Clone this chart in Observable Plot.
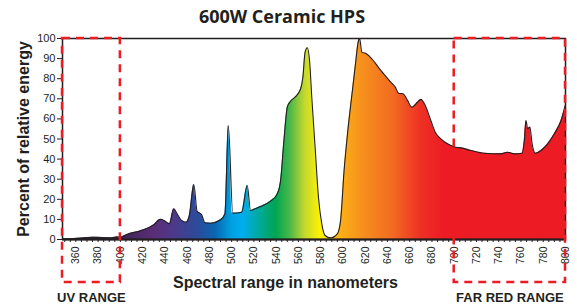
<!DOCTYPE html>
<html><head><meta charset="utf-8">
<script src="https://cdn.jsdelivr.net/npm/d3@7"></script>
<script src="https://cdn.jsdelivr.net/npm/@observablehq/plot@0.6"></script>
<style>
body{margin:0;background:#fff;}
#title{height:30px;box-sizing:border-box;padding:4px 13px 0 0;text-align:center;font:bold 18px "Open Sans",sans-serif;color:#231f20;line-height:24px;}
#chart svg{overflow:visible;}
</style></head><body>
<div id="title">600W Ceramic HPS</div>
<div id="chart"></div>
<script>
const wavelength = [348,356,365,375,384,392,397,400,404,409,416,421,430,436,440,444,448,451,455,459,462,466,469,473,476,481,490,494,497,501,509,514,517,521,526,535,541,544,547,550,553,557,562,564,566,568,570,572,575,578,581,584,589,595,598,601,604,607,608.5,611,614,615,617,621,626,634,643,647,650,654,658,662,667,670,674,679,683,688,694,701,706,715,727,742,748,754,761,763,764.5,766,768,770,773,778,784,790,796,800];
const energy = [0.3,0.4,0.7,1.1,1.0,0.8,1.3,1.0,2.0,3.1,4.0,4.8,7.3,10.1,9.2,7.8,15.3,12.8,9.5,8.6,12,27.4,14,12.4,8.3,8.1,9.8,12.8,56.7,13.1,13.6,26.9,14.4,15.3,16.4,19.1,22.7,29.4,49.3,65.8,68.8,70.8,75,80.7,93.2,95.4,89,70.8,45.9,21,7.8,2,0.8,2.8,10,34,52,67,74,86,99,100,93.2,92.4,89.9,84.1,78.3,75.8,72.8,72.5,69.2,65.8,68.3,69.7,66.7,59.2,53.4,50.1,47.6,45.9,45.6,44.3,42.9,42.6,43.4,42.6,42.9,49.3,59.2,55.1,55.9,47.6,42.9,44.3,47.6,52.6,59.2,67];
const xTicks = [360,380,400,420,440,460,480,500,520,540,560,580,600,620,640,660,680,700,720,740,760,780,800];
const yTicks = [0,10,20,30,40,50,60,70,80,90,100];
const minorTicks = d3.range(350, 801, 5);
const xDomain = [348, 800];
const ranges = [[348, 400], [700, 800]];
const rangeLabels = ["UV RANGE", "FAR RED RANGE"];
const gradWl = [348,400,430,450,470,485,500,510,525,540,553,566,580,595,615,645,670,690,800];
const gradColor = ["#2a2233","#3a2450","#5b2d78","#4b3a8c","#2b4c9b","#0a64b0","#00a0e0","#00aeef","#00a99d","#00a651","#4cb848","#c4d82e","#fff200","#fdb515","#f7941d","#f26b21","#ee3124","#ed1c24","#ed1c24"];

const data = wavelength.map((w, i) => ({w, e: energy[i]}));
const ink = "#231f20";

const defs = () => {
  const d = d3.create("svg:defs");
  const g = d.append("linearGradient").attr("id", "spec").attr("x1", 0).attr("x2", 1).attr("y1", 0).attr("y2", 0);
  gradWl.forEach((w, i) => g.append("stop")
    .attr("offset", (w - xDomain[0]) / (xDomain[1] - xDomain[0]))
    .attr("stop-color", gradColor[i]));
  return d.node();
};

const chart = Plot.plot({
  width: 577, height: 275,
  marginTop: 8, marginBottom: 66, marginLeft: 62, marginRight: 12,
  style: {fontFamily: "'Liberation Sans', Arial, sans-serif", color: ink, background: "#fff", overflow: "visible"},
  x: {domain: xDomain},
  y: {domain: [0, 100]},
  marks: [
    defs,
    Plot.areaY(data, {x: "w", y: "e", fill: "url(#spec)", curve: "monotone-x"}),
    Plot.lineY(data, {x: "w", y: "e", stroke: ink, strokeWidth: 1.1, curve: "monotone-x"}),
    Plot.frame({stroke: ink, strokeWidth: 1.5}),
    Plot.ruleY([0], {stroke: ink, strokeWidth: 2}),
    Plot.axisY({ticks: yTicks, tickSize: 5, tickPadding: 2, fontSize: 11, label: null, stroke: ink}),
    Plot.axisX({ticks: minorTicks, tickFormat: () => "", tickSize: 3, label: null, stroke: ink}),
    Plot.axisX({ticks: xTicks, tickRotate: -90, tickSize: 0, tickPadding: 7, fontSize: 10.5, label: null}),
    Plot.rect(ranges, {x1: d => d[0], x2: d => d[1], y1: 0, y2: 100, insetBottom: -43, fill: "none", stroke: "#ed1c24", strokeWidth: 2.5, strokeDasharray: "8,6"}),
    Plot.text(["Spectral range in nanometers"], {text: d => d, frameAnchor: "bottom", dx: -28.5, dy: 48, lineAnchor: "bottom", fontSize: 16, fontWeight: "bold", fill: ink}),
    Plot.text(["Percent of relative energy"], {text: d => d, frameAnchor: "left", textAnchor: "middle", lineAnchor: "middle", dx: -39, rotate: -90, fontSize: 16, fontWeight: "bold", fill: ink}),
    Plot.text(ranges, {x: d => (d[0] + d[1]) / 2, text: (d, i) => rangeLabels[i], frameAnchor: "bottom", dy: 62, lineAnchor: "bottom", fontSize: 13, fontWeight: "bold", fill: ink})
  ]
});
document.getElementById("chart").appendChild(chart);
</script>
</body></html>
